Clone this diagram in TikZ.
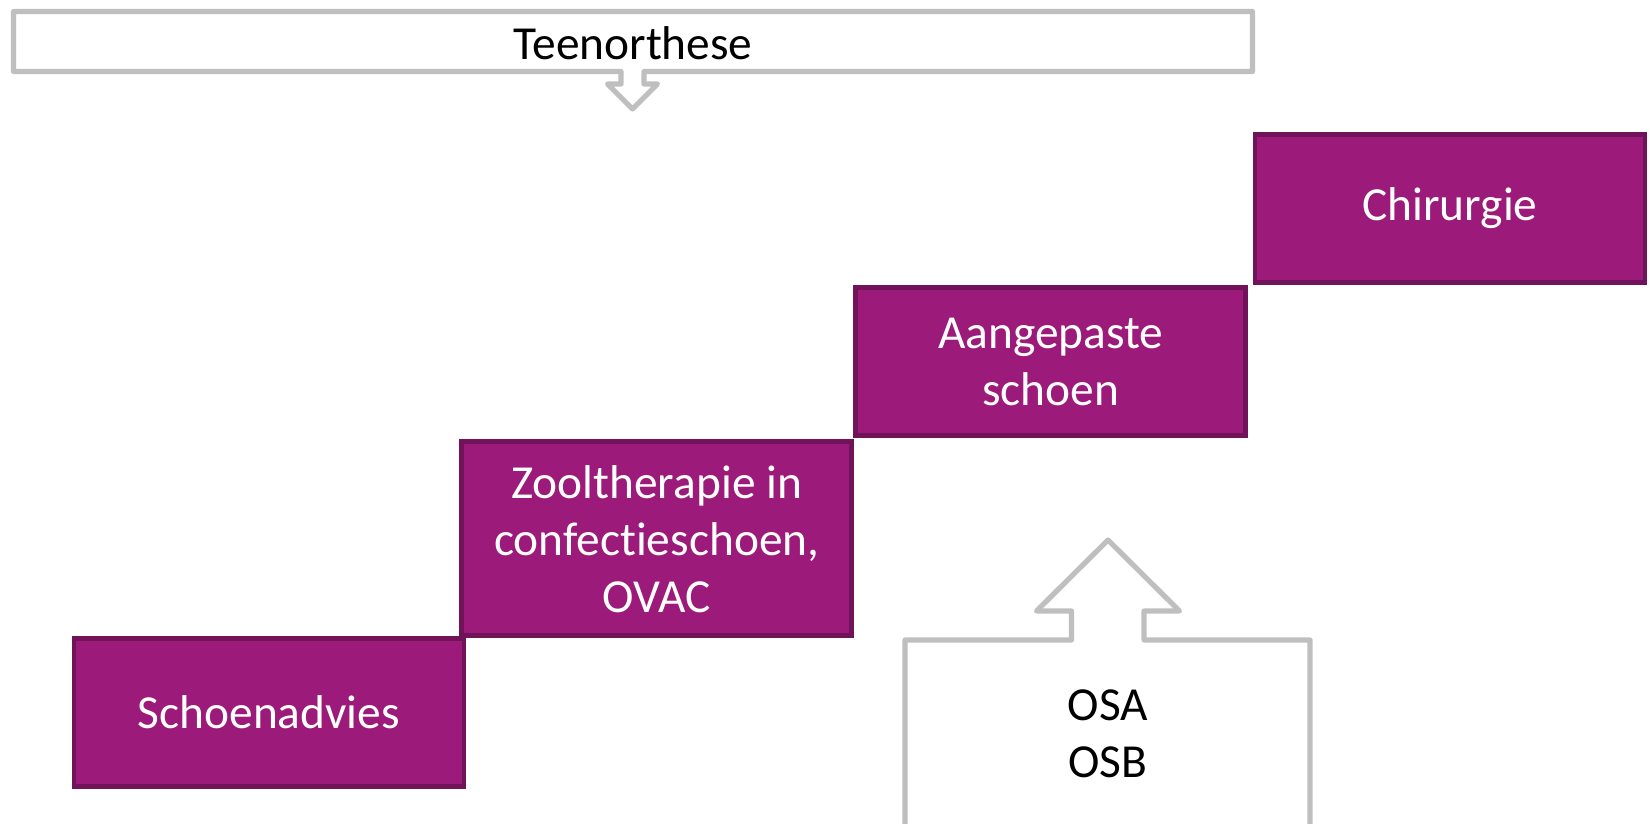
\documentclass[tikz,border=0pt]{standalone}
\usepackage{fontspec}
\setmainfont[Ligatures=NoCommon]{Carlito}
\definecolor{plum}{RGB}{156,26,122}
\definecolor{plumdark}{RGB}{113,19,88}
\definecolor{callgray}{RGB}{191,191,191}
\begin{document}
\begin{tikzpicture}[x=0.5pt,y=-0.5pt,
  stepbox/.style={draw=plumdark,line width=2.4pt,fill=plum,text=white,
    minimum width=195pt,minimum height=74pt,align=center,inner sep=0pt,
    font=\fontsize{23.7}{28.5}\selectfont},
  callout/.style={draw=callgray,line width=2.6pt,line join=round,fill=white},
  calltext/.style={text=black,align=center,inner sep=0pt,
    font=\fontsize{23.7}{28.5}\selectfont}]
\useasboundingbox (0,0) rectangle (1650,824);
\clip (0,0) rectangle (1650,824);
% top callout with down arrow
\draw[callout] (13.5,11.5) -- (1252.5,11.5) -- (1252.5,71.5) -- (644,71.5) -- (644,84)
  -- (657.5,84) -- (632.5,109) -- (607.5,84) -- (621,84) -- (621,71.5) -- (13.5,71.5) -- cycle;
\node[calltext] (teen) at (633,43) {Teenorthese};
% steps
\node[stepbox] (chir) at (1450,208.4) {Chirurgie};
\node[stepbox] (aang) at (1050.7,361.5) {Aangepaste\\schoen};
\node[stepbox,minimum height=97pt] (zool) at (656.7,538.8) {Zooltherapie in\\confectieschoen,\\OVAC};
\node[stepbox] (schoen) at (268.9,712.4) {Schoenadvies};
% bottom callout with up arrow
\draw[callout] (905,840) -- (905,640) -- (1071.5,640) -- (1071.5,611) -- (1036.5,611)
  -- (1108,540) -- (1179.5,611) -- (1144,611) -- (1144,640) -- (1310,640) -- (1310,840);
\node[calltext] (osa) at (1108,734) {OSA\\OSB};
\end{tikzpicture}
\end{document}
